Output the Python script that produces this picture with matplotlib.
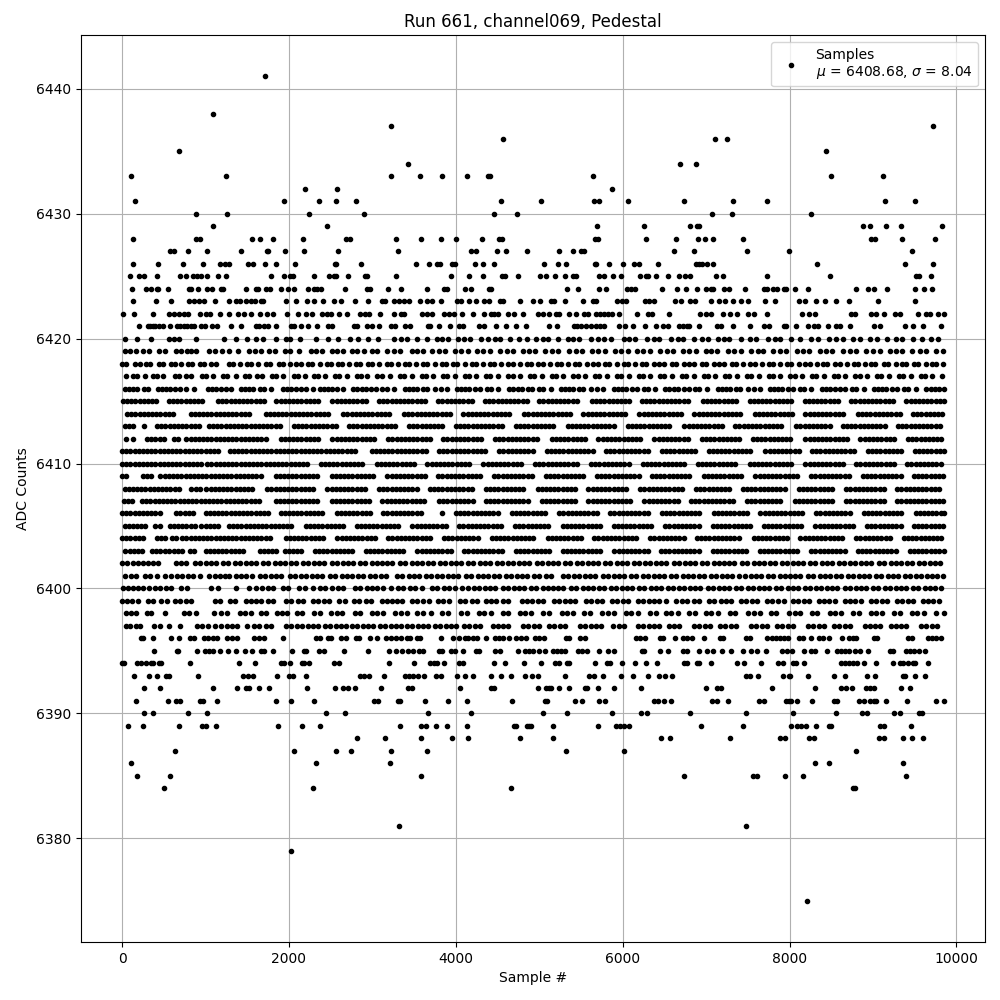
import matplotlib
matplotlib.use("Agg")
import matplotlib.pyplot as plt

title_text = "Run 661, channel069, Pedestal"
x_label = "Sample #"
y_label = "ADC Counts"
legend_label = "Samples\n$\\mu$ = 6408.68, $\\sigma$ = 8.04"

# sample numbers per ADC level
s6441=[1714]
s6438=[1090]
s6437=[3226,9714]
s6436=[4570,7110,7254]
s6435=[682,8442]
s6434=[3430,6690,6882]
s6433=[106,1246,3226,3574,3838,4138,4386,4414,5646,8502,9114]
s6432=[2194,2578,5874]
s6431=[154,1942,2362,2566,2806,4546,5022,5658,5718,6066,6738,7326,7734,9138,9498]
s6430=[886,1258,2242,2902,4462,4738,7074,7314,8262]
s6429=[1090,2458,5694,6258,6810,6894,6918,8886,8962,9150,9330,9822]
s6428=[130,886,934,1558,1654,1810,2170,2686,2734,3286,3586,3826,4006,4318,4522,4558,5670,5706,6282,6642,6906,6990,7086,7446,8974,9022,9342,9738]
s6427=[574,622,790,1018,1426,1738,1750,1954,2182,2590,3310,4186,4246,4498,4606,4858,5238,5406,5502,5538,6618,6858,7494,7998,9462]
s6426=[130,430,730,970,1174,1234,1282,1510,1570,1714,1846,2074,2554,2566,2866,3526,3682,3778,3814,3958,3994,4234,4330,4462,5058,5226,5322,5670,5682,5838,6006,6138,6198,6426,6882,6918,6954,7014,7086,8334,9378,9714]
s6425=[94,202,262,418,694,766,850,898,946,1018,1150,1246,1786,1942,2014,2050,2302,2482,2542,2566,2710,2914,2938,3286,3946,4162,4330,4558,4594,4750,5010,5082,5190,5310,5406,5442,5718,5778,5886,5982,6210,6282,6306,6402,6546,6678,6750,6810,7122,7206,7734,8490,9510,9546,9690]
s6424=[118,286,346,418,430,550,802,826,910,1018,1078,1186,1210,1486,1606,1630,1726,1774,1906,1990,2062,2230,2302,2338,2386,2674,2938,2974,3190,3346,3658,3862,3898,4114,4186,4402,4426,5334,5466,5718,5802,6054,6102,6150,6474,6654,6762,6894,7002,7062,7086,7218,7278,7470,7698,7734,7806,7854,7938,7962,8070,8226,8802,8946,9018,9162,9498,9606,9702]
s6423=[130,406,586,802,862,922,982,1114,1282,1366,1414,1486,1546,1594,1666,1690,1966,2086,2218,2302,2410,2542,2626,2794,2950,3118,3154,3262,3322,3382,3442,3574,3658,3718,3826,4018,4066,4162,4246,4342,4402,4534,4570,4774,4926,5010,5142,5178,5310,5526,5646,5682,5934,5994,6042,6270,6318,6378,6630,6702,6810,6870,7062,7158,7230,7326,7422,7506,7710,7830,8118,8190,8322,8430,8562,8718,9066,9498]
s6422=[10,142,370,562,622,682,742,790,934,1006,1054,1174,1282,1390,1462,1546,1654,1738,1810,1978,2110,2206,2278,2398,2458,2506,2602,2698,2854,2914,2962,3094,3262,3346,3382,3598,3658,3718,3862,3922,3982,4078,4210,4342,4426,4462,4502,4630,4702,4810,4986,5046,5118,5202,5238,5358,5442,5538,5586,5682,5730,5778,5826,5874,5958,6174,6306,6354,6558,6930,7002,7062,7206,7290,7374,7506,7578,7734,8154,8238,8310,8742,8790,8982,9042,9126,9258,9318,9534,9630,9678,9774,9850]
s6421=[202,310,340,370,400,440,490,574,662,700,740,780,830,860,942,994,1082,1142,1302,1426,1606,1642,1702,1750,1846,2026,2062,2146,2230,2338,2470,2518,2782,2810,2938,2998,3082,3226,3274,3394,3454,3670,3694,3802,3934,4042,4090,4282,4342,4486,4606,4726,4846,5118,5214,5418,5458,5498,5560,5620,5680,5730,5770,5958,6030,6126,6270,6402,6486,6546,6678,6720,6770,6800,6918,7134,7182,7326,7530,7698,7758,7938,7962,8082,8226,8298,8346,8466,8562,8610,8730,9018,9090,9378,9474,9594,9810]
s6420=[34,178,346,562,620,682,882,1222,1366,1498,1606,1690,1846,1962,2014,2134,2326,2470,2590,2734,2830,2942,3070,3262,3340,3410,3530,3650,3780,3840,3910,4030,4100,4170,4300,4390,4470,4530,4650,4760,4850,4960,5040,5110,5230,5340,5410,5480,5620,5700,5780,5860,6010,6080,6150,6290,6370,6430,6580,6660,6720,6860,6950,7020,7140,7210,7280,7420,7520,7600,7740,7820,7890,8020,8130,8260,8340,8470,8560,8640,8760,8850,8960,9050,9170,9280,9350,9480,9590,9690,9780]
s6419=[30,90,170,250,320,440,510,650,710,780,830,890,1040,1110,1200,1280,1390,1520,1590,1660,1760,1830,1950,2010,2120,2260,2330,2400,2510,2570,2650,2750,2810,2900,2990,3060,3180,3260,3330,3470,3540,3610,3720,3800,3870,3990,4060,4140,4250,4330,4410,4530,4610,4680,4810,4880,4950,5070,5150,5230,5360,5440,5510,5630,5700,5790,5910,5980,6060,6170,6240,6330,6450,6530,6600,6720,6790,6880,7000,7060,7130,7260,7340,7420,7540,7620,7680,7800,7880,7960,8090,8160,8230,8370,8440,8510,8640,8720,8800,8920,9000,9080,9200,9280,9350,9470,9560,9640,9760,9840]
s6418=[0,50,160,210,290,340,440,490,590,640,710,790,840,930,980,1070,1130,1280,1330,1410,1500,1550,1630,1720,1770,1880,1930,2010,2090,2140,2230,2280,2370,2450,2500,2590,2640,2720,2800,2850,2950,3000,3080,3170,3220,3310,3390,3440,3520,3610,3660,3750,3830,3880,3970,4020,4110,4190,4240,4330,4410,4460,4540,4630,4680,4770,4850,4900,4990,5040,5130,5210,5260,5340,5430,5480,5570,5650,5700,5790,5840,5930,6010,6060,6150,6230,6280,6370,6440,6490,6590,6640,6730,6800,6850,6950,7000,7090,7160,7210,7310,7360,7440,7530,7580,7670,7750,7800,7890,7970,8020,8110,8190,8240,8330,8400,8450,8550,8600,8690,8770,8820,8910,8980,9030,9130,9180,9270,9350,9400,9490,9540,9630,9710,9760,9840]
s6417=[50,130,180,270,370,420,490,630,680,770,820,960,1010,1090,1210,1260,1360,1470,1520,1620,1680,1800,1850,1930,2060,2110,2190,2300,2350,2430,2550,2600,2690,2810,2860,2940,3060,3110,3210,3330,3380,3470,3590,3640,3730,3850,3900,3990,4110,4160,4240,4360,4410,4510,4630,4680,4770,4890,4940,5030,5150,5200,5290,5410,5460,5550,5670,5720,5810,5930,5980,6070,6190,6240,6330,6450,6500,6590,6710,6760,6850,6970,7020,7110,7230,7280,7370,7490,7540,7630,7750,7800,7890,8010,8060,8150,8270,8320,8410,8530,8580,8670,8790,8840,8930,9050,9100,9190,9310,9360,9450,9570,9620,9710,9830]
s6416=[30,80,130,180,260,310,430,480,530,580,640,690,770,860,1030,1080,1130,1180,1240,1310,1420,1470,1520,1570,1650,1700,1790,1930,1980,2030,2080,2150,2200,2290,2370,2420,2470,2520,2580,2650,2770,2820,2870,2920,2980,3040,3120,3170,3260,3390,3440,3490,3540,3610,3660,3750,3820,3890,4010,4060,4110,4160,4230,4290,4370,4420,4510,4640,4690,4740,4790,4860,4910,5000,5050,5140,5260,5310,5360,5410,5480,5530,5620,5690,5760,5890,5940,5990,6040,6110,6170,6250,6300,6390,6510,6560,6610,6660,6730,6790,6870,6920,7010,7140,7190,7240,7290,7360,7410,7500,7570,7640,7760,7810,7860,7910,7980,8040,8120,8170,8260,8390,8440,8490,8540,8610,8670,8750,8800,8890,9010,9060,9110,9160,9230,9290,9370,9420,9510,9640,9690,9740,9790,9850]
s6415=[10,60,110,160,210,260,310,360,410,560,610,660,710,760,810,860,910,960,1150,1200,1250,1300,1350,1400,1450,1500,1550,1600,1650,1700,1850,1900,1950,2000,2050,2100,2150,2200,2250,2300,2350,2520,2570,2620,2670,2720,2770,2820,2870,2920,3080,3130,3180,3230,3280,3330,3380,3430,3480,3530,3580,3630,3790,3840,3890,3940,3990,4040,4090,4140,4190,4350,4400,4450,4500,4550,4600,4650,4700,4750,4800,4850,5000,5050,5100,5150,5200,5250,5300,5350,5400,5450,5630,5680,5730,5780,5830,5880,5930,5980,6030,6080,6230,6280,6330,6380,6430,6480,6530,6580,6630,6680,6730,6780,6960,7010,7060,7110,7160,7210,7260,7310,7360,7520,7570,7620,7670,7720,7770,7820,7870,7920,7970,8020,8180,8230,8280,8330,8380,8430,8480,8530,8580,8740,8790,8840,8890,8940,8990,9040,9090,9140,9190,9240,9400,9450,9500,9550,9600,9650,9700,9750,9800,9850]
s6414=[60,110,160,210,260,310,360,410,460,510,560,610,820,870,920,970,1020,1070,1120,1170,1220,1270,1320,1370,1420,1470,1520,1720,1770,1820,1870,1920,1970,2020,2070,2120,2170,2220,2270,2320,2370,2420,2470,2650,2700,2750,2800,2850,2900,2950,3000,3050,3100,3150,3200,3380,3430,3480,3530,3580,3630,3680,3730,3780,3830,3880,3930,4090,4140,4190,4240,4290,4340,4390,4440,4490,4540,4590,4640,4820,4870,4920,4970,5020,5070,5120,5170,5220,5270,5320,5370,5530,5580,5630,5680,5730,5780,5830,5880,5930,5980,6030,6200,6250,6300,6350,6400,6450,6500,6550,6600,6650,6700,6860,6910,6960,7010,7060,7110,7160,7210,7260,7310,7360,7410,7580,7630,7680,7730,7780,7830,7880,7930,7980,8030,8190,8240,8290,8340,8390,8440,8490,8540,8590,8640,8820,8870,8920,8970,9020,9070,9120,9170,9220,9270,9320,9480,9530,9580,9630,9680,9730,9780,9830]
s6413=[30,80,130,260,420,470,520,570,620,670,720,770,820,870,920,1040,1090,1140,1190,1240,1290,1340,1390,1440,1490,1540,1590,1640,1690,1740,1790,1840,1890,2060,2110,2160,2210,2260,2310,2360,2410,2460,2510,2560,2720,2770,2820,2870,2920,2970,3020,3070,3120,3170,3220,3270,3440,3490,3540,3590,3640,3690,3740,3790,3840,4000,4050,4100,4150,4200,4250,4300,4350,4400,4450,4500,4550,4720,4770,4820,4870,4920,4970,5020,5070,5120,5170,5340,5390,5440,5490,5540,5590,5640,5690,5740,5790,5840,5890,6060,6110,6160,6210,6260,6310,6360,6410,6460,6510,6560,6740,6790,6840,6890,6940,6990,7040,7090,7140,7190,7350,7400,7450,7500,7550,7600,7650,7700,7750,7800,7850,7900,8080,8130,8180,8230,8280,8330,8380,8430,8480,8640,8690,8740,8790,8840,8890,8940,8990,9040,9090,9140,9300,9350,9400,9450,9500,9550,9600,9650,9700,9750,9800]
s6412=[50,130,300,350,400,450,500,620,670,770,820,870,920,970,1020,1070,1120,1170,1220,1270,1320,1370,1420,1470,1520,1570,1620,1670,1720,1900,1950,2000,2050,2100,2150,2200,2250,2300,2350,2520,2570,2620,2670,2720,2770,2820,2870,2920,2970,3020,3190,3240,3290,3340,3390,3440,3490,3540,3590,3640,3690,3850,3900,3950,4000,4050,4100,4150,4200,4250,4300,4470,4520,4570,4620,4670,4720,4770,4820,4870,4920,4970,5150,5200,5250,5300,5350,5400,5450,5500,5550,5710,5760,5810,5860,5910,5960,6010,6060,6110,6160,6210,6380,6430,6480,6530,6580,6630,6680,6730,6780,6950,7000,7050,7100,7150,7200,7250,7300,7350,7400,7560,7610,7660,7710,7760,7810,7860,7910,7960,8010,8190,8240,8290,8340,8390,8440,8490,8540,8590,8640,8690,8850,8900,8950,9000,9050,9100,9150,9200,9250,9420,9470,9520,9570,9620,9670,9720,9770,9820]
s6411=[0,50,100,150,200,250,300,350,400,450,500,550,600,650,700,750,800,850,900,950,1000,1050,1100,1150,1290,1340,1390,1440,1490,1540,1590,1640,1690,1740,1790,1840,1890,1940,1990,2040,2090,2140,2190,2240,2290,2340,2390,2440,2490,2540,2590,2640,2690,2740,2790,2990,3040,3090,3140,3190,3240,3290,3340,3390,3440,3490,3540,3590,3640,3800,3850,3900,3950,4000,4050,4100,4150,4200,4250,4300,4350,4520,4570,4620,4670,4720,4770,4820,4870,4920,5090,5140,5190,5240,5290,5340,5390,5440,5490,5540,5590,5640,5800,5850,5900,5950,6000,6050,6100,6150,6200,6250,6300,6470,6520,6570,6620,6670,6720,6770,6820,6870,7030,7080,7130,7180,7230,7280,7330,7380,7430,7480,7530,7710,7760,7810,7860,7910,7960,8010,8060,8110,8270,8320,8370,8420,8470,8520,8570,8620,8670,8720,8770,8940,8990,9040,9090,9140,9190,9240,9290,9340,9500,9550,9600,9650,9700,9750,9800,9850]
s6410=[0,50,100,150,200,250,300,350,400,450,500,550,600,650,700,750,800,850,900,950,1020,1070,1120,1170,1220,1270,1320,1370,1420,1470,1520,1570,1620,1670,1720,1770,1820,1870,1920,1970,2020,2070,2120,2170,2220,2380,2430,2480,2530,2580,2630,2680,2730,2780,2830,2880,3050,3100,3150,3200,3250,3300,3350,3400,3450,3500,3660,3710,3760,3810,3860,3910,3960,4010,4060,4110,4160,4330,4380,4430,4480,4530,4580,4630,4680,4730,4780,4950,5000,5050,5100,5150,5200,5250,5300,5350,5400,5450,5620,5670,5720,5770,5820,5870,5920,5970,6020,6070,6240,6290,6340,6390,6440,6490,6540,6590,6640,6690,6740,6900,6950,7000,7050,7100,7150,7200,7250,7300,7350,7520,7570,7620,7670,7720,7770,7820,7870,7920,7970,8020,8190,8240,8290,8340,8390,8440,8490,8540,8590,8640,8800,8850,8900,8950,9000,9050,9100,9150,9200,9250,9410,9460,9510,9560,9610,9660,9710,9760,9810]
s6409=[0,50,250,300,350,460,510,560,610,660,710,760,810,860,910,960,1010,1060,1110,1160,1210,1260,1310,1360,1410,1460,1510,1560,1610,1660,1840,1890,1940,1990,2040,2090,2140,2190,2240,2290,2340,2510,2560,2610,2660,2710,2760,2810,2860,2910,2960,3010,3180,3230,3280,3330,3380,3430,3480,3530,3580,3630,3790,3840,3890,3940,3990,4040,4090,4140,4190,4240,4290,4460,4510,4560,4610,4660,4710,4760,4810,4860,4910,5080,5130,5180,5230,5280,5330,5380,5430,5480,5530,5690,5740,5790,5840,5890,5940,5990,6040,6090,6140,6190,6350,6400,6450,6500,6550,6600,6650,6700,6750,6800,6970,7020,7070,7120,7170,7220,7270,7320,7370,7420,7590,7640,7690,7740,7790,7840,7890,7940,7990,8040,8090,8260,8310,8360,8410,8460,8510,8560,8610,8660,8710,8880,8930,8980,9030,9080,9130,9180,9230,9280,9330,9490,9540,9590,9640,9690,9740,9790,9840]
s6408=[30,80,130,180,230,280,330,380,430,480,530,580,630,680,830,880,930,1010,1060,1110,1160,1210,1260,1310,1360,1410,1460,1510,1560,1740,1790,1840,1890,1940,1990,2040,2090,2140,2190,2240,2290,2460,2510,2560,2610,2660,2710,2760,2810,2860,2910,3080,3130,3180,3230,3280,3330,3380,3430,3480,3530,3690,3740,3790,3840,3890,3940,3990,4040,4090,4140,4190,4360,4410,4460,4510,4560,4610,4660,4710,4760,4810,4980,5030,5080,5130,5180,5230,5280,5330,5380,5430,5590,5640,5690,5740,5790,5840,5890,5940,5990,6040,6210,6260,6310,6360,6410,6460,6510,6560,6610,6660,6710,6880,6930,6980,7030,7080,7130,7180,7230,7280,7440,7490,7540,7590,7640,7690,7740,7790,7840,7890,7940,8110,8160,8210,8260,8310,8360,8410,8460,8510,8680,8730,8780,8830,8880,8930,8980,9030,9080,9130,9290,9340,9390,9440,9490,9540,9590,9640,9690,9740,9790]
s6407=[20,70,120,240,290,340,390,440,490,540,590,640,690,740,790,840,890,940,990,1040,1090,1140,1190,1240,1290,1340,1390,1440,1490,1540,1590,1640,1840,1890,1940,1990,2040,2090,2140,2190,2240,2290,2340,2510,2560,2610,2660,2710,2760,2810,2860,2910,2960,3120,3170,3220,3270,3320,3370,3420,3470,3520,3570,3620,3800,3850,3900,3950,4000,4050,4100,4150,4200,4360,4410,4460,4510,4560,4610,4660,4710,4760,4810,4860,5030,5080,5130,5180,5230,5280,5330,5380,5430,5590,5640,5690,5740,5790,5840,5890,5940,5990,6040,6090,6260,6310,6360,6410,6460,6510,6560,6610,6660,6820,6870,6920,6970,7020,7070,7120,7170,7220,7270,7320,7490,7540,7590,7640,7690,7740,7790,7840,7890,8060,8110,8160,8210,8260,8310,8360,8410,8460,8510,8680,8730,8780,8830,8880,8930,8980,9030,9080,9130,9290,9340,9390,9440,9490,9540,9590,9640,9690,9740,9790,9840]
s6406=[0,50,100,150,200,250,300,350,400,450,650,700,750,800,850,1000,1050,1100,1150,1200,1250,1300,1350,1400,1450,1500,1550,1600,1650,1700,1750,1900,1950,2000,2050,2100,2150,2200,2250,2300,2350,2400,2570,2620,2670,2720,2770,2820,2870,2920,2970,3130,3180,3230,3280,3330,3380,3430,3480,3530,3580,3830,4000,4050,4100,4150,4200,4250,4300,4350,4400,4450,4500,4670,4720,4770,4820,4870,4920,4970,5020,5070,5240,5290,5340,5390,5440,5490,5540,5590,5640,5690,5850,5900,5950,6000,6050,6100,6150,6200,6250,6300,6470,6520,6570,6620,6670,6720,6770,6820,6870,6920,7090,7140,7190,7240,7290,7340,7390,7440,7490,7650,7700,7750,7800,7850,7900,7950,8000,8050,8100,8150,8320,8370,8420,8470,8520,8570,8620,8670,8720,8890,8940,8990,9040,9090,9140,9190,9240,9290,9340,9510,9560,9610,9660,9710,9760,9810,9850]
s6405=[30,80,130,180,230,280,400,450,570,620,670,720,770,820,870,950,1000,1050,1100,1150,1280,1330,1380,1430,1480,1530,1580,1630,1680,1730,1780,1830,1880,1930,1980,2030,2200,2250,2300,2350,2400,2450,2500,2550,2600,2650,2810,2860,2910,2960,3010,3060,3110,3160,3210,3260,3310,3480,3530,3580,3630,3680,3730,3780,3830,3880,4040,4090,4140,4190,4240,4290,4340,4390,4440,4490,4540,4710,4760,4810,4860,4910,4960,5010,5060,5110,5280,5330,5380,5430,5480,5530,5580,5630,5680,5730,5890,5940,5990,6040,6090,6140,6190,6240,6290,6340,6510,6560,6610,6660,6710,6760,6810,6860,6910,7080,7130,7180,7230,7280,7330,7380,7430,7480,7530,7690,7740,7790,7840,7890,7940,7990,8040,8090,8140,8310,8360,8410,8460,8510,8560,8610,8660,8710,8760,8930,8980,9030,9080,9130,9180,9230,9280,9330,9490,9540,9590,9640,9690,9740,9790,9840]
s6404=[0,50,100,150,200,250,420,470,520,600,650,720,770,820,870,920,970,1020,1070,1120,1170,1220,1270,1320,1370,1420,1470,1520,1570,1620,1670,1720,1770,1960,2010,2060,2110,2160,2210,2260,2310,2360,2410,2580,2630,2680,2730,2780,2830,2880,2930,2980,3030,3190,3240,3290,3340,3390,3440,3490,3540,3590,3640,3690,3860,3910,3960,4010,4060,4110,4160,4210,4260,4430,4480,4530,4580,4630,4680,4730,4780,4830,4880,4930,5100,5150,5200,5250,5300,5350,5400,5450,5500,5660,5710,5760,5810,5860,5910,5960,6010,6060,6110,6160,6330,6380,6430,6480,6530,6580,6630,6680,6730,6890,6940,6990,7040,7090,7140,7190,7240,7290,7340,7390,7570,7620,7670,7720,7770,7820,7870,7920,7970,8130,8180,8230,8280,8330,8380,8430,8480,8530,8580,8630,8800,8850,8900,8950,9000,9050,9100,9150,9200,9370,9420,9470,9520,9570,9620,9670,9720,9770,9820]
s6403=[40,90,140,190,240,360,410,460,510,560,620,670,720,810,860,1000,1050,1100,1150,1200,1250,1300,1350,1400,1450,1650,1700,1750,1800,1850,1950,2000,2050,2100,2150,2310,2360,2410,2460,2510,2560,2610,2660,2710,2760,2920,2970,3020,3070,3120,3170,3220,3270,3320,3370,3540,3590,3640,3690,3740,3790,3840,3890,3940,4100,4150,4200,4250,4300,4350,4400,4450,4500,4550,4720,4770,4820,4870,4920,4970,5020,5070,5120,5280,5330,5380,5430,5480,5530,5580,5630,5680,5730,5900,5950,6000,6050,6100,6150,6200,6250,6300,6460,6510,6560,6610,6660,6710,6760,6810,6860,6910,7080,7130,7180,7230,7280,7330,7380,7430,7480,7640,7690,7740,7790,7840,7890,7940,7990,8040,8090,8260,8310,8360,8410,8460,8510,8560,8610,8660,8820,8870,8920,8970,9020,9070,9120,9170,9220,9270,9440,9490,9540,9590,9640,9690,9740,9790,9850]
s6402=[0,60,130,190,250,310,370,430,650,710,770,870,930,1010,1070,1130,1210,1270,1350,1410,1480,1540,1600,1690,1750,1830,1890,1950,2030,2090,2170,2230,2300,2360,2420,2510,2570,2650,2710,2770,2850,2910,2990,3050,3120,3180,3240,3330,3390,3470,3530,3590,3670,3730,3810,3870,3940,4000,4060,4150,4210,4290,4350,4410,4490,4550,4630,4690,4760,4820,4880,4970,5030,5110,5170,5230,5310,5370,5450,5510,5580,5640,5700,5790,5850,5930,5990,6050,6130,6190,6270,6330,6400,6460,6520,6610,6670,6750,6810,6870,6950,7010,7090,7150,7220,7280,7340,7430,7490,7570,7630,7690,7770,7830,7910,7970,8040,8100,8160,8250,8310,8390,8450,8510,8590,8650,8730,8790,8860,8920,8980,9070,9130,9210,9270,9330,9410,9470,9550,9610,9680,9740,9800]
s6401=[30,110,170,280,340,420,520,590,660,720,790,850,930,1040,1110,1170,1230,1280,1370,1430,1490,1560,1650,1710,1790,1850,1910,2010,2070,2150,2210,2280,2340,2400,2490,2550,2630,2690,2750,2830,2890,2970,3030,3100,3160,3300,3360,3440,3500,3560,3640,3700,3780,3840,3910,3970,4030,4120,4180,4260,4320,4380,4460,4520,4600,4660,4730,4790,4850,4940,5000,5080,5140,5280,5340,5420,5480,5550,5610,5670,5760,5820,5900,5960,6020,6100,6160,6240,6300,6370,6430,6490,6580,6640,6720,6780,6840,6920,6980,7060,7120,7190,7250,7310,7400,7460,7540,7600,7660,7740,7800,7880,7940,8010,8070,8130,8220,8280,8360,8420,8480,8560,8620,8700,8760,8830,8890,8950,9040,9100,9180,9240,9300,9380,9440,9520,9580,9650,9710,9770,9840]
s6400=[10,70,130,190,250,320,400,460,530,590,710,780,1070,1150,1360,1520,1600,1680,1750,1810,1930,1990,2120,2190,2290,2370,2430,2520,2590,2650,2790,2850,2930,2990,3050,3130,3220,3310,3370,3450,3510,3590,3710,3770,3860,3920,3990,4080,4140,4220,4280,4350,4410,4470,4560,4620,4700,4760,4820,4900,4960,5040,5100,5170,5230,5290,5380,5440,5520,5580,5640,5720,5780,5860,5920,5990,6050,6110,6200,6260,6340,6400,6460,6540,6600,6680,6740,6810,6870,6930,7020,7080,7160,7220,7280,7360,7420,7500,7560,7630,7690,7750,7840,7900,7980,8040,8100,8180,8240,8320,8380,8450,8510,8570,8660,8720,8800,8860,8920,9000,9060,9140,9200,9270,9330,9390,9480,9540,9620,9680,9740,9820]
s6399=[0,60,120,190,310,370,470,540,640,690,760,820,1110,1170,1290,1350,1480,1540,1610,1670,1750,1810,1970,2030,2110,2170,2290,2350,2420,2480,2600,2670,2780,2840,2920,2980,3110,3170,3240,3300,3360,3480,3540,3610,3680,3790,3850,3920,4050,4110,4190,4250,4360,4420,4480,4570,4630,4790,4850,4910,4990,5050,5180,5240,5310,5370,5430,5560,5620,5690,5750,5870,5930,6000,6060,6180,6240,6310,6370,6430,6520,6640,6710,6770,6860,6920,7040,7100,7180,7240,7300,7420,7480,7550,7610,7730,7790,7860,7930,8040,8100,8170,8230,8350,8410,8470,8540,8660,8720,8780,8860,8980,9040,9110,9170,9290,9350,9420,9480,9600,9660,9720,9790]
s6398=[50,110,170,300,350,520,740,800,880,1100,1180,1260,1410,1470,1550,1660,1730,1860,1920,1980,2100,2160,2300,2370,2500,2570,2640,2790,2850,2990,3060,3130,3270,3340,3420,3540,3610,3700,3840,3910,4060,4130,4280,4340,4420,4560,4630,4770,4830,4900,5050,5120,5270,5330,5400,5540,5610,5750,5820,5890,6040,6100,6180,6330,6400,6520,6580,6660,6800,6870,7000,7060,7140,7290,7350,7500,7570,7640,7780,7840,7990,8060,8130,8270,8330,8480,8550,8620,8760,8830,8980,9040,9110,9250,9320,9470,9530,9610,9750,9850]
s6397=[50,100,170,220,380,450,560,700,900,960,1030,1110,1180,1260,1320,1380,1500,1580,1640,1720,1780,1970,2030,2100,2160,2230,2290,2350,2430,2490,2560,2620,2680,2760,2820,2890,2950,3010,3090,3150,3220,3280,3340,3420,3480,3550,3610,3670,3750,3810,3880,3940,4000,4100,4160,4230,4290,4440,4500,4570,4630,4810,4870,4940,5000,5120,5180,5250,5310,5490,5550,5620,5680,5740,5880,5950,6010,6180,6240,6310,6370,6430,6550,6620,6680,6860,6920,6990,7050,7170,7230,7300,7360,7540,7600,7670,7730,7850,7910,7980,8040,8220,8280,8350,8410,8530,8590,8660,8720,8900,8960,9030,9090,9210,9270,9340,9400,9580,9640,9710,9770]
s6396=[226,250,370,586,682,814,862,982,1030,1090,1138,1258,1318,1378,1582,1642,1702,1930,2326,2374,2470,2506,2626,2686,2806,2842,2974,3058,3166,3226,3286,3346,3418,3454,3538,3574,3826,3970,4042,4114,4150,4210,4258,4366,4474,4522,4570,4642,4726,4786,4846,4950,4998,5058,5322,5358,5490,5550,6162,6210,6270,6450,6486,6630,6726,6774,6834,6978,7170,7206,7482,7530,7734,7794,7842,7890,7938,7986,8118,8166,8262,8358,8406,8478,8634,8718,8766,8802,9018,9054,9414,9462,9654,9702,9750,9810]
s6395=[382,658,670,898,994,1042,1090,1174,1266,1366,1474,1558,1666,1702,1810,2038,2182,2206,2362,2422,2662,2950,3202,3286,3358,3430,3490,3562,3610,3802,3838,3946,3994,4090,4246,4282,4474,4534,4750,4834,4882,4926,4998,5070,5166,5214,5262,5310,5466,5514,5574,5718,5826,5898,6234,6258,6450,6542,6726,6774,6918,7014,7086,7194,7302,7446,7542,7614,7722,7914,7974,8034,8178,8262,8310,8454,8574,8622,8670,8718,8790,8850,8946,9198,9234,9390,9438,9486,9546,9618]
s6394=[0,22,178,226,286,346,370,442,466,814,1402,1594,1906,1942,2014,2158,2182,2242,2542,2602,3202,3502,3694,3742,3778,3862,4042,4090,4462,4594,4822,5022,5190,5238,5334,5358,5670,5814,5850,5994,6150,6282,6414,6738,6774,6894,6918,7062,7374,7458,7662,7866,7926,8046,8082,8178,8622,8670,8718,8766,8814,8898,9042,9234,9318,9354,9414,9474,9498,9654]
s6393=[142,322,418,526,562,910,1450,1510,1570,1858,2002,2050,2206,2854,2902,2962,3142,3394,3442,3490,3550,3622,3766,3826,4018,4114,4210,4426,4546,4666,4834,4914,4986,5310,5598,5658,5766,5982,6126,6306,6438,6510,6594,7482,7530,7626,7926,7998,8010,8226,8538,8670,8934,9030,9354,9378,9498,9618]
s6392=[262,454,1090,1378,1486,1522,1642,1762,2218,2554,2650,2710,2794,3106,3430,3478,4054,4426,4462,4986,5082,5118,5142,5238,5358,5550,5574,5706,5898,6222,7002,7134,7182,7794,8310,8622,8682,8754,8922,8970,9018,9330,9438]
s6391=[166,550,646,694,934,970,1138,1846,2026,2302,3022,3070,3310,3334,3634,3910,4138,4678,5070,5094,5430,5514,5718,5790,6378,6426,6498,6582,7074,7134,7266,7638,7698,7962,7998,8022,8094,8274,8538,8574,8838,8898,8970,9018,9042,9150,9402,9750,9846]
s6390=[262,370,790,1018,2446,2674,3670,4186,5046,5334,5874,6222,6294,6810,7482,8046,8562,8874,8934,9246,9318,9546,9582]
s6389=[70,250,682,958,1006,1126,1870,2158,2374,3334,3586,3646,3766,3898,4138,4702,4726,4858,4882,4898,5166,5706,5922,5970,6018,6078,6942,7446,8022,8094,8142,8202,8322,8478,8502,9090,9126,9450]
s6388=[2818,3154,3586,3958,4150,4774,5166,6462,6570,7290,7890,7950,8238,8298,9078,9126,9354,9462,9594]
s6387=[634,2062,2566,2746,3226,3658,5322,6018,8802]
s6386=[106,2326,3214,8310,8478,9354]
s6385=[178,574,3586,6738,7566,7614,7950,8166,9390]
s6384=[502,2290,4666,8766,8790]
s6381=[3322,7482]
s6379=[2026]
s6375=[8214]

levels = [6441,6438,6437,6436,6435,6434,6433,6432,6431,6430,6429,6428,6427,6426,6425,6424,6423,6422,6421,6420,
          6419,6418,6417,6416,6415,6414,6413,6412,6411,6410,6409,6408,6407,6406,6405,6404,6403,6402,6401,6400,
          6399,6398,6397,6396,6395,6394,6393,6392,6391,6390,6389,6388,6387,6386,6385,6384,6381,6379,6375]
samples_by_level = [s6441,s6438,s6437,s6436,s6435,s6434,s6433,s6432,s6431,s6430,s6429,s6428,s6427,s6426,s6425,s6424,s6423,s6422,s6421,s6420,
          s6419,s6418,s6417,s6416,s6415,s6414,s6413,s6412,s6411,s6410,s6409,s6408,s6407,s6406,s6405,s6404,s6403,s6402,s6401,s6400,
          s6399,s6398,s6397,s6396,s6395,s6394,s6393,s6392,s6391,s6390,s6389,s6388,s6387,s6386,s6385,s6384,s6381,s6379,s6375]

xs, ys = [], []
for lv, row in zip(levels, samples_by_level):
    xs.extend(row)
    ys.extend([lv] * len(row))

fig, ax = plt.subplots(figsize=(10, 10), dpi=100)
ax.plot(xs, ys, '.', color='black', label=legend_label)
ax.set_title(title_text)
ax.set_xlabel(x_label)
ax.set_ylabel(y_label)
ax.grid(True)
ax.legend(loc='upper right')
fig.subplots_adjust(left=0.081, right=0.985, top=0.965, bottom=0.058)
fig.savefig("out.png", dpi=100)
